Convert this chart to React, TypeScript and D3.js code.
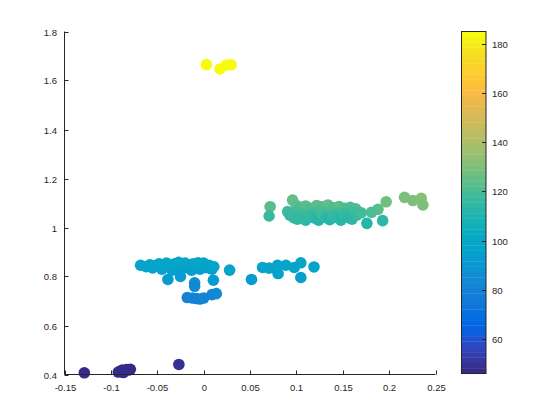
import { useEffect, useRef } from "react";
import * as d3 from "d3";

// scatter points: x, y and colour value
const xs = [
  // yellow
  0.003, 0.0176, 0.0245, 0.0296,
  // purple
  -0.1286, -0.092, -0.0895, -0.0875, -0.0865, -0.085, -0.083, -0.0805, -0.079, -0.0267,
  // blue main row
  -0.068, -0.062, -0.058, -0.055, -0.052, -0.048, -0.045, -0.043, -0.04, -0.038, -0.036, -0.034,
  -0.031, -0.029, -0.027, -0.025, -0.022, -0.02, -0.018, -0.015, -0.013, -0.011, -0.008, -0.006,
  -0.004, -0.002, 0.0, 0.003, 0.006, 0.009, 0.011,
  // blue below row
  -0.0385, -0.025, 0.0105, -0.0097, -0.0097,
  // blue bottom row
  -0.0176, -0.012, -0.008, -0.004, 0.0, 0.009, 0.0137,
  // blue right
  0.028, 0.0516, 0.0635, 0.0706, 0.0797, 0.0803, 0.0887, 0.0977, 0.1048, 0.1048, 0.119,
  // green upper
  0.0717, 0.0959, 0.1, 0.105, 0.11, 0.116, 0.122, 0.128, 0.134, 0.14, 0.146, 0.152, 0.158, 0.164,
  0.1968, 0.2166, 0.2256, 0.2346, 0.2364, 0.188, 0.181,
  // green middle
  0.1, 0.112, 0.125, 0.138, 0.15, 0.162, 0.105, 0.145, 0.118, 0.131, 0.157,
  // green lower
  0.0706, 0.0905, 0.093, 0.097, 0.101, 0.106, 0.11, 0.115, 0.12, 0.124, 0.128, 0.132, 0.136,
  0.14, 0.144, 0.148, 0.152, 0.156, 0.16, 0.165, 0.17, 0.176, 0.193,
];

const ys = [
  1.665, 1.647, 1.663, 1.664,
  0.407, 0.41, 0.414, 0.418, 0.408, 0.415, 0.42, 0.419, 0.421, 0.441,
  0.846, 0.84, 0.848, 0.835, 0.845, 0.852, 0.83, 0.842, 0.855, 0.838, 0.848, 0.826,
  0.852, 0.84, 0.858, 0.83, 0.846, 0.855, 0.836, 0.848, 0.826, 0.852, 0.84, 0.856,
  0.83, 0.848, 0.855, 0.836, 0.846, 0.83, 0.84,
  0.788, 0.8, 0.785, 0.774, 0.76,
  0.714, 0.712, 0.71, 0.708, 0.712, 0.726, 0.73,
  0.826, 0.788, 0.837, 0.834, 0.846, 0.812, 0.846, 0.837, 0.856, 0.796, 0.839,
  1.085, 1.112, 1.09, 1.082, 1.088, 1.078, 1.09, 1.084, 1.092, 1.08, 1.086, 1.078, 1.082, 1.076,
  1.105, 1.123, 1.11, 1.119, 1.092, 1.074, 1.062,
  1.062, 1.066, 1.07, 1.064, 1.068, 1.06, 1.055, 1.058, 1.06, 1.062, 1.064,
  1.047, 1.065, 1.05, 1.04, 1.034, 1.045, 1.03, 1.05, 1.038, 1.03, 1.055, 1.04, 1.032,
  1.05, 1.04, 1.03, 1.055, 1.04, 1.034, 1.05, 1.06, 1.017, 1.028,
];

const cs = [
  184, 185, 183, 185,
  47, 48, 49, 48, 47, 49, 48, 49, 48, 49,
  97, 96, 98, 95, 97, 98, 94, 97, 99, 95, 98, 94,
  98, 96, 99, 95, 97, 99, 95, 98, 94, 98, 96, 99,
  95, 97, 98, 95, 97, 94, 96,
  92, 93, 92, 86, 84,
  80, 81, 80, 80, 81, 82, 83,
  96, 93, 97, 98, 97, 95, 98, 96, 99, 95, 96,
  124, 126, 123, 122, 123, 122, 124, 123, 125, 122, 123, 121, 122, 121,
  128, 130, 129, 131, 129, 124, 122,
  119, 120, 121, 120, 120, 119, 118, 118, 119, 120, 119,
  117, 118, 117, 116, 115, 116, 114, 117, 115, 113, 118, 115, 113,
  116, 115, 113, 117, 115, 114, 117, 119, 112, 114,
];

const xTicks = [-0.15, -0.1, -0.05, 0, 0.05, 0.1, 0.15, 0.2, 0.25];
const yTicks = [0.4, 0.6, 0.8, 1, 1.2, 1.4, 1.6, 1.8];
const cTicks = [60, 80, 100, 120, 140, 160, 180];
const cDomain = [46, 185];

// parula, 64 entries
const parula = [
  [0.2081, 0.1663, 0.5292], [0.2116, 0.1898, 0.5777], [0.2123, 0.2138, 0.627], [0.2081, 0.2386, 0.6771],
  [0.1959, 0.2645, 0.7279], [0.1707, 0.2919, 0.7792], [0.1253, 0.3242, 0.8303], [0.0591, 0.3598, 0.8683],
  [0.0117, 0.3875, 0.882], [0.006, 0.4086, 0.8828], [0.0165, 0.4266, 0.8786], [0.0329, 0.443, 0.872],
  [0.0498, 0.4586, 0.8641], [0.0629, 0.4737, 0.8554], [0.0723, 0.4887, 0.8467], [0.0779, 0.504, 0.8384],
  [0.0793, 0.52, 0.8312], [0.0749, 0.5375, 0.8263], [0.0641, 0.557, 0.824], [0.0488, 0.5772, 0.8228],
  [0.0343, 0.5966, 0.8199], [0.0265, 0.6137, 0.8135], [0.0239, 0.6287, 0.8038], [0.0231, 0.6418, 0.7913],
  [0.0228, 0.6535, 0.7768], [0.0267, 0.6642, 0.7607], [0.0384, 0.6743, 0.7436], [0.059, 0.6838, 0.7254],
  [0.0843, 0.6928, 0.7062], [0.1133, 0.7015, 0.6859], [0.1453, 0.7098, 0.6646], [0.1801, 0.7177, 0.6424],
  [0.2178, 0.725, 0.6193], [0.2586, 0.7317, 0.5954], [0.3022, 0.7376, 0.5712], [0.3482, 0.7424, 0.5473],
  [0.3953, 0.7459, 0.5244], [0.442, 0.7481, 0.5033], [0.4871, 0.7491, 0.484], [0.53, 0.7491, 0.4661],
  [0.5709, 0.7485, 0.4494], [0.6099, 0.7473, 0.4337], [0.6473, 0.7456, 0.4188], [0.6834, 0.7435, 0.4044],
  [0.7184, 0.7411, 0.3905], [0.7525, 0.7384, 0.3768], [0.7858, 0.7356, 0.3633], [0.8185, 0.7327, 0.3498],
  [0.8507, 0.7299, 0.336], [0.8824, 0.7274, 0.3217], [0.9139, 0.7258, 0.3063], [0.945, 0.7261, 0.2886],
  [0.9739, 0.7314, 0.2666], [0.9938, 0.7455, 0.2403], [0.999, 0.7653, 0.2164], [0.9955, 0.7861, 0.1967],
  [0.988, 0.8066, 0.1794], [0.9789, 0.8271, 0.1633], [0.9697, 0.8481, 0.1475], [0.9626, 0.8705, 0.1309],
  [0.9589, 0.8949, 0.1132], [0.9598, 0.9218, 0.0948], [0.9661, 0.9514, 0.0755], [0.9763, 0.9831, 0.0538],
].map(([r, g, b]) => d3.rgb(r * 255, g * 255, b * 255).formatHex());

const colorOf = (v: number) => {
  const t = (v - cDomain[0]) / (cDomain[1] - cDomain[0]);
  const i = Math.max(0, Math.min(63, Math.floor(t * 64)));
  return parula[i];
};

export default function App() {
  const ref = useRef<SVGSVGElement>(null);

  useEffect(() => {
    document.body.style.margin = "0";
    const svg = d3.select(ref.current);
    svg.selectAll("*").remove();

    const axisColor = "#262626";
    const font = "'Liberation Sans', Arial, sans-serif";

    const x = d3.scaleLinear().domain([-0.15, 0.25]).range([64.5, 435.5]);
    const y = d3.scaleLinear().domain([0.4, 1.8]).range([374.5, 31.5]);
    const c = d3.scaleLinear().domain(cDomain).range([373.5, 31.5]);

    // points
    svg
      .append("g")
      .selectAll("circle")
      .data(xs.map((d, i) => ({ x: d, y: ys[i], c: cs[i] })))
      .join("circle")
      .attr("cx", (d) => x(d.x))
      .attr("cy", (d) => y(d.y))
      .attr("r", 5.8)
      .attr("fill", (d) => colorOf(d.c));

    // axes
    const g = svg.append("g").attr("stroke", axisColor).attr("stroke-width", 1);
    g.append("line").attr("x1", 64.5).attr("x2", 64.5).attr("y1", 31.5).attr("y2", 374.5);
    g.append("line").attr("x1", 64.5).attr("x2", 435.5).attr("y1", 374.5).attr("y2", 374.5);

    xTicks.forEach((t) => {
      const px = Math.round(x(t)) + 0.5;
      g.append("line").attr("x1", px).attr("x2", px).attr("y1", 374.5).attr("y2", 370.5);
      svg
        .append("text")
        .attr("x", px)
        .attr("y", 391)
        .attr("text-anchor", "middle")
        .attr("font-family", font)
        .attr("font-size", 9.5)
        .attr("fill", axisColor)
        .text(String(t));
    });

    yTicks.forEach((t) => {
      const py = Math.round(y(t)) + 0.5;
      g.append("line").attr("x1", 64.5).attr("x2", 68.5).attr("y1", py).attr("y2", py);
      svg
        .append("text")
        .attr("x", 57)
        .attr("y", py + 3.5)
        .attr("text-anchor", "end")
        .attr("font-family", font)
        .attr("font-size", 9.5)
        .attr("fill", axisColor)
        .text(String(t));
    });

    // colorbar
    const cb = svg.append("g");
    const bandH = (c.range()[0] - c.range()[1]) / 64;
    parula.forEach((col, i) => {
      cb.append("rect")
        .attr("x", 461.5)
        .attr("y", c.range()[0] - (i + 1) * bandH)
        .attr("width", 24.5)
        .attr("height", bandH + 0.3)
        .attr("fill", col);
    });
    cb.append("rect")
      .attr("x", 461.5)
      .attr("y", 31.5)
      .attr("width", 24.5)
      .attr("height", 342)
      .attr("fill", "none")
      .attr("stroke", axisColor)
      .attr("stroke-width", 1);

    cTicks.forEach((t) => {
      const py = Math.round(c(t)) + 0.5;
      cb.append("line")
        .attr("x1", 486)
        .attr("x2", 482)
        .attr("y1", py)
        .attr("y2", py)
        .attr("stroke", axisColor);
      cb.append("text")
        .attr("x", 492)
        .attr("y", py + 3.5)
        .attr("font-family", font)
        .attr("font-size", 9.5)
        .attr("fill", axisColor)
        .text(String(t));
    });
  }, []);

  return <svg ref={ref} width={560} height={420} style={{ display: "block", background: "#fff" }} />;
}
